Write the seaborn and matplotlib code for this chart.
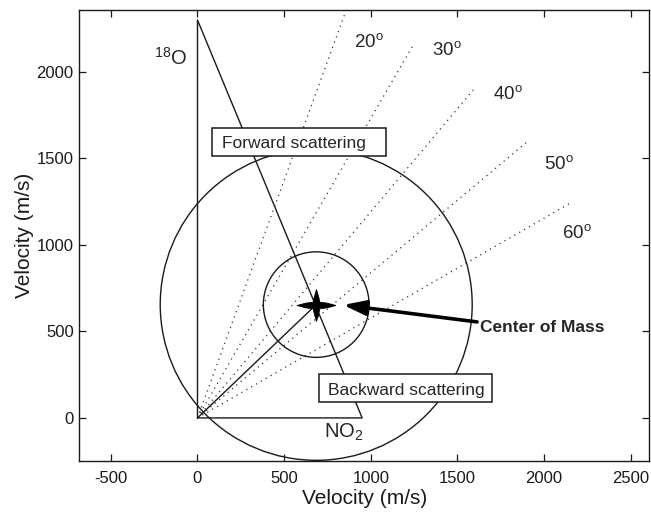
import numpy as np
import pandas as pd
import matplotlib
matplotlib.use("Agg")
import matplotlib.pyplot as plt
from matplotlib.patches import Circle, Rectangle
import seaborn as sns

# ---------------- data ----------------
v_O18 = 2300.0          # 18O beam velocity (along y), m/s
v_NO2 = 950.0           # NO2 beam velocity (along x), m/s
cm_x, cm_y = 685.0, 655.0   # centre-of-mass velocity
r_small = 305.0         # small Newton circle radius
r_large = 900.0         # large Newton circle radius
ray_angles = [20, 30, 40, 50, 60]   # degrees from the y axis
ray_length = 2500.0
angle_label_x = [903, 1351, 1703, 1999, 2101]
angle_label_y = [2146, 2098, 1844, 1440, 1039]
xticks = [-500, 0, 500, 1000, 1500, 2000, 2500]
yticks = [0, 500, 1000, 1500, 2000]

# ---------------- style ----------------
sns.set_theme(style="ticks")
plt.rcParams["font.family"] = ["Liberation Sans", "DejaVu Sans"]
plt.rcParams["mathtext.fontset"] = "custom"
plt.rcParams["mathtext.rm"] = "Liberation Sans"
plt.rcParams["mathtext.it"] = "Liberation Sans:italic"
plt.rcParams["mathtext.bf"] = "Liberation Sans:bold"
plt.rcParams["axes.unicode_minus"] = False

fig = plt.figure(figsize=(6.51, 5.12), dpi=100)
ax = fig.add_axes([0.1218, 0.0996, 0.8751, 0.8799])
ax.set_facecolor("white")
fig.patch.set_facecolor("white")

ink = "#1a1a1a"

# dotted rays from origin
rows = []
for a in ray_angles:
    t = np.deg2rad(a)
    rows.append({"angle": a, "x": 0.0, "y": 0.0})
    rows.append({"angle": a, "x": ray_length * np.sin(t), "y": ray_length * np.cos(t)})
rays = pd.DataFrame(rows)
sns.lineplot(data=rays, x="x", y="y", units="angle", estimator=None, sort=False,
             color="#333333", lw=0.9, linestyle=(0, (1, 3.5)), ax=ax, zorder=2)

# Newton triangle
tri = pd.DataFrame({"x": [0, 0, v_NO2, 0], "y": [0, v_O18, 0, 0]})
sns.lineplot(data=tri, x="x", y="y", sort=False, estimator=None, color=ink, lw=1.0, ax=ax, zorder=3)

# centre-of-mass vector
cmv = pd.DataFrame({"x": [0, cm_x], "y": [0, cm_y]})
sns.lineplot(data=cmv, x="x", y="y", sort=False, estimator=None, color=ink, lw=1.0, ax=ax, zorder=3)

# circles
for r in (r_small, r_large):
    ax.add_patch(Circle((cm_x, cm_y), r, fill=False, ec=ink, lw=1.0, zorder=3))

# CM marker: thick plus with tapered ends
h = 0.82
star = [(1, 0), (0.55, 0.12), (0.17, 0.17), (0.12, 0.5 * h), (0, h),
        (-0.12, 0.5 * h), (-0.17, 0.17), (-0.55, 0.12), (-1, 0),
        (-0.55, -0.12), (-0.17, -0.17), (-0.12, -0.5 * h), (0, -h),
        (0.12, -0.5 * h), (0.17, -0.17), (0.55, -0.12), (1, 0)]
ax.plot([cm_x], [cm_y], marker=star, ms=28, color="black", mec="black", mew=0.6, zorder=6)

# arrow to the CM and its label
ax.annotate("", xy=(841, 653), xytext=(1613, 555),
            arrowprops=dict(arrowstyle="-|>,head_length=1.35,head_width=0.45",
                            mutation_scale=10, lw=2.6, color="black",
                            shrinkA=0, shrinkB=0), zorder=6)
ax.text(1630, 499, "Center of Mass", fontsize=12.5, fontweight="bold",
        ha="left", va="baseline", zorder=7)

# angle labels
for a, x, y in zip(ray_angles, angle_label_x, angle_label_y):
    ax.text(x, y, f"{a}" + r"$^{\mathrm{o}}$", fontsize=13.5, ha="left", va="baseline", zorder=7)

# molecule labels
ax.text(-249, 2040, r"$^{18}$O", fontsize=14.5, ha="left", va="baseline", zorder=7)
ax.text(730, -116, r"NO$_{2}$", fontsize=14.5, ha="left", va="baseline", zorder=7)

# boxed labels
ax.add_patch(Rectangle((85, 1516), 1001, 159, fc="white", ec=ink, lw=1.1, zorder=5))
ax.text(140, 1559, "Forward scattering", fontsize=12.5, ha="left", va="baseline", zorder=7)
ax.add_patch(Rectangle((703, 94), 994, 159, fc="white", ec=ink, lw=1.1, zorder=5))
ax.text(755, 133, "Backward scattering", fontsize=12.5, ha="left", va="baseline", zorder=7)

# axes
ax.set_xlim(-682, 2605)
ax.set_ylim(-249, 2355)
ax.set_xticks(xticks)
ax.set_yticks(yticks)
ax.set_xticklabels([str(v) for v in xticks])
ax.set_yticklabels([str(v) for v in yticks])
ax.tick_params(axis="both", which="both", direction="in", length=5, width=0.9,
               colors=ink, labelsize=12, top=True, right=True)
ax.tick_params(axis="x", pad=7)
ax.tick_params(axis="y", pad=4)
for s in ax.spines.values():
    s.set_visible(True)
    s.set_color(ink)
    s.set_linewidth(1.0)
ax.set_xlabel("Velocity (m/s)", fontsize=15, color=ink, labelpad=2)
ax.set_ylabel("Velocity (m/s)", fontsize=15, color=ink, labelpad=2)
ax.grid(False)

fig.savefig("out.png", dpi=100, facecolor="white")
